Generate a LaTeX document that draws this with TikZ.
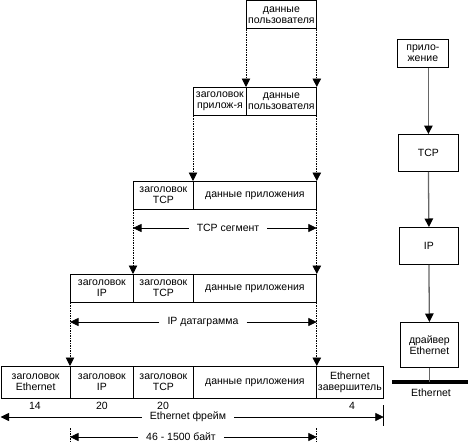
\documentclass[tikz,border=0pt]{standalone}
\usepackage{fontspec}
\setmainfont{Liberation Sans}
\usetikzlibrary{arrows.meta}
\begin{document}
\begin{tikzpicture}[x=1pt,y=-1pt,
  cell/.style={draw, line width=0.8pt, inner sep=0pt, align=center, anchor=north west,
    font=\fontsize{10.5}{11}\selectfont},
  lbl/.style={inner sep=0pt, font=\fontsize{10.5}{11}\selectfont},
  hlbl/.style={inner xsep=8pt, inner ysep=0pt, font=\fontsize{10.5}{11}\selectfont},
  dn/.style={line width=0.9pt, dash pattern=on 1.5pt off 1pt, -{Triangle[length=8.5pt,width=8.5pt]}},
  hr/.style={line width=0.8pt, -{Triangle[length=8.5pt,width=8pt]}},
  tick/.style={line width=0.8pt, dash pattern=on 1.5pt off 1pt},
  stk/.style={draw, line width=0.8pt, inner sep=0pt, align=center, anchor=north west,
    font=\fontsize{10.5}{11}\selectfont},
  conn/.style={draw=black!60, line width=1.3pt},
  conna/.style={conn, -{Triangle[length=8.5pt,width=8.5pt,color=black,fill=black]}}]
\useasboundingbox (0,0) rectangle (468,444);

% row 1
\node[cell, minimum width=70pt, minimum height=28pt] (u1) at (246,0.5) {данные\\пользователя};
% row 2
\node[cell, minimum width=53pt, minimum height=28pt] (a2) at (193,87) {заголовок\\прилож-я};
\node[cell, minimum width=70pt, minimum height=28pt] (u2) at (246,87) {данные\\пользователя};
% row 3
\node[cell, minimum width=60pt, minimum height=28pt] (t3) at (133,181) {заголовок\\TCP};
\node[cell, minimum width=123pt, minimum height=28pt] (d3) at (193,181) {данные приложения};
% row 4
\node[cell, minimum width=63pt, minimum height=28pt] (i4) at (70,274) {заголовок\\IP};
\node[cell, minimum width=60pt, minimum height=28pt] (t4) at (133,274) {заголовок\\TCP};
\node[cell, minimum width=123pt, minimum height=28pt] (d4) at (193,274) {данные приложения};
% row 5
\node[cell, minimum width=69.5pt, minimum height=32pt] (e5) at (0.5,366) {заголовок\\Ethernet};
\node[cell, minimum width=63pt, minimum height=32pt] (i5) at (70,366) {заголовок\\IP};
\node[cell, minimum width=60pt, minimum height=32pt] (t5) at (133,366) {заголовок\\TCP};
\node[cell, minimum width=123pt, minimum height=32pt] (d5) at (193,366) {данные приложения};
\node[cell, minimum width=67pt, minimum height=32pt] (z5) at (316,366) {Ethernet\\завершитель};

% vertical dotted arrows
\draw[dn] (u1.south west) -- (u2.north west);
\draw[dn] (u1.south east) -- (u2.north east);
\draw[dn] (a2.south west) -- (d3.north west);
\draw[dn] (u2.south east) -- (d3.north east);
\draw[dn] (t3.south west) -- (t4.north west);
\draw[dn] (d3.south east) -- (d4.north east);
\draw[dn] (i4.south west) -- (i5.north west);
\draw[dn] (d4.south east) -- (d5.north east);

% byte counts
\node[lbl] (n14) at (35,406) {14};
\node[lbl] (n20a) at (102,406) {20};
\node[lbl] (n20b) at (163,406) {20};
\node[lbl] (n4) at (352,406) {4};

% horizontal extents
\node[hlbl] (ltcp) at (228,228) {TCP сегмент};
\draw[hr] (ltcp.west) -- (t3.west |- ltcp.west);
\draw[hr] (ltcp.east) -- (d3.east |- ltcp.east);

\node[hlbl] (lip) at (203,322) {IP датаграмма};
\draw[hr] (lip.west) -- (i4.west |- lip.west);
\draw[hr] (lip.east) -- (d4.east |- lip.east);

\node[hlbl] (leth) at (188,417) {Ethernet фрейм};
\draw[hr] (leth.west) -- (e5.west |- leth.west);
\draw[hr] (leth.east) -- (z5.east |- leth.east);
\coordinate (ft1) at (383,405);
\coordinate (ft2) at (383,426);
\draw[line width=0.8pt] (ft1) -- (ft2);

\node[hlbl] (lbyte) at (181,437) {46 - 1500 байт};
\draw[hr] (lbyte.west) -- (i5.west |- lbyte.west);
\draw[hr] (lbyte.east) -- (d5.east |- lbyte.east);
\coordinate (lt1) at (70,428);
\coordinate (lt2) at (70,443);
\coordinate (rt1) at (316,428);
\coordinate (rt2) at (316,443);
\draw[tick] (lt1) -- (lt2);
\draw[tick] (rt1) -- (rt2);

% right-hand stack
\node[stk, minimum width=51pt, minimum height=28pt] (app) at (397,39) {прило-\\жение};
\node[stk, minimum width=60pt, minimum height=37pt] (tcp) at (398,134) {TCP};
\node[stk, minimum width=59pt, minimum height=37pt] (ip) at (399,227) {IP};
\node[stk, minimum width=58pt, minimum height=45pt] (drv) at (400,322) {драйвер\\Ethernet};
\coordinate (busl) at (392,382);
\coordinate (busr) at (468,382);
\draw[line width=4pt] (busl) -- (busr);
\node[lbl] (bus) at (431,393) {Ethernet};

\draw[conna] (tcp.north |- app.south) -- (tcp.north);
\draw[conna] (tcp.south) -- (ip.north);
\draw[conna] (ip.south) -- (drv.north);
\draw[conn] (drv.south) -- (drv.south |- busl);
\end{tikzpicture}
\end{document}
